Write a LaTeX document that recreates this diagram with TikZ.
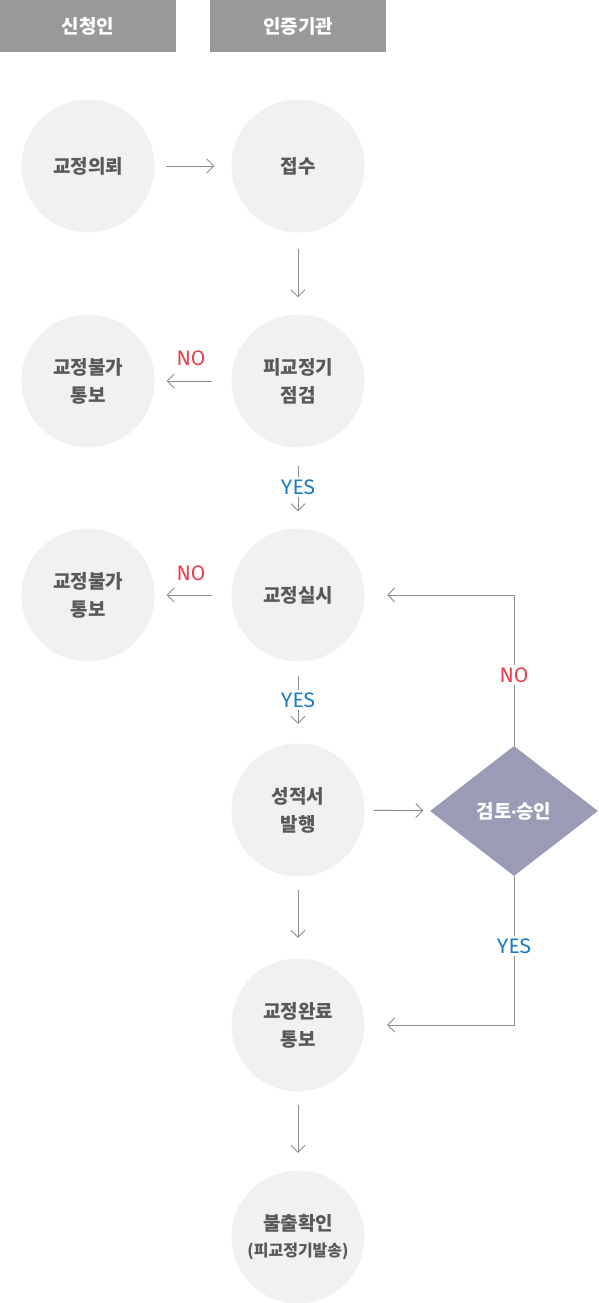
\documentclass[tikz,border=0pt]{standalone}
\usepackage{fontspec}
\setmainfont{Noto Sans CJK KR}
\newfontfamily\latfont{Fira Sans}
\usetikzlibrary{shapes.geometric,arrows.meta}
\definecolor{hdr}{HTML}{999999}
\definecolor{cfill}{HTML}{F1F1F1}
\definecolor{ctext}{HTML}{595959}
\definecolor{dfill}{HTML}{9A9CB6}
\definecolor{arrc}{HTML}{8C8C8C}
\definecolor{nored}{HTML}{E8414E}
\definecolor{yesblue}{HTML}{1C7CC4}
\begin{document}
\begin{tikzpicture}[x=1pt,y=-1pt,
  circ/.style={circle,fill=cfill,minimum size=133pt,inner sep=0pt,
    font=\fontsize{19}{28}\selectfont\bfseries,text=ctext,align=center},
  hdrbox/.style={fill=hdr,minimum width=176pt,minimum height=52pt,inner sep=0pt,
    text=white,font=\fontsize{19}{22}\selectfont\bfseries},
  dia/.style={diamond,fill=dfill,aspect=1.29,minimum width=168pt,minimum height=130pt,
    inner sep=0pt,text=white,font=\fontsize{19}{22}\selectfont\bfseries},
  arr/.style={draw=arrc,line width=0.9pt,-{Straight Barb[length=7pt,width=14pt]}},
  nolbl/.style={font=\latfont\fontsize{21}{21}\selectfont,text=nored,inner sep=3pt},
  yeslbl/.style={font=\latfont\fontsize{21}{21}\selectfont,text=yesblue,inner sep=3pt},
  wfill/.style={fill=white}
]
\useasboundingbox (0,0) rectangle (599,1303);
\node[hdrbox] (h1) at (88,26) {신청인};
\node[hdrbox] (h2) at (298,26) {인증기관};
\node[circ] (a) at (88,166) {교정의뢰};
\node[circ] (b) at (298,166) {접수};
\node[circ] (c) at (298,381) {피교정기\\점검};
\node[circ] (d) at (88,381) {교정불가\\통보};
\node[circ] (e) at (298,595) {교정실시};
\node[circ] (f) at (88,595) {교정불가\\통보};
\node[circ] (g) at (298,810) {성적서\\발행};
\node[dia] (k) at (514,811) {검토{\latfont\bfseries ·}승인};
\node[circ] (h) at (298,1025) {교정완료\\통보};
\node[circ] (i) at (298,1237) {불출확인\\[-2pt]{\fontsize{16}{18}\selectfont (피교정기발송)}};

\draw[arr,shorten <=11pt,shorten >=17pt] (a) -- (b);
\draw[arr,shorten <=16pt,shorten >=17pt] (b) -- (c);
\draw[arr,shorten <=19pt,shorten >=12pt] (c) -- (d);
\draw[arr,shorten <=18pt,shorten >=17pt] (c) -- (e);
\draw[arr,shorten <=19pt,shorten >=12pt] (e) -- (f);
\draw[arr,shorten <=14.5pt,shorten >=19.5pt] (e) -- (g);
\draw[arr,shorten <=9pt,shorten >=7pt] (g) -- (k);
\draw[arr,shorten <=13.5pt,shorten >=20.5pt] (g) -- (h);
\draw[arr,shorten <=13.5pt,shorten >=17.5pt] (h) -- (i);
\draw[arr,shorten >=22.5pt] (k.north) |- (e.east);
\draw[arr,shorten >=22.5pt] (k.south) |- (h.east);

\node[nolbl] (no1) at (191,358) {NO};
\node[nolbl] (no2) at (191,573) {NO};
\node[yeslbl,wfill] (yes1) at (298,487) {YES};
\node[yeslbl,wfill] (yes2) at (298,700) {YES};
\node[nolbl,wfill] (no3) at (514,675) {NO};
\node[yeslbl,wfill] (yes3) at (514,946) {YES};
\end{tikzpicture}
\end{document}
